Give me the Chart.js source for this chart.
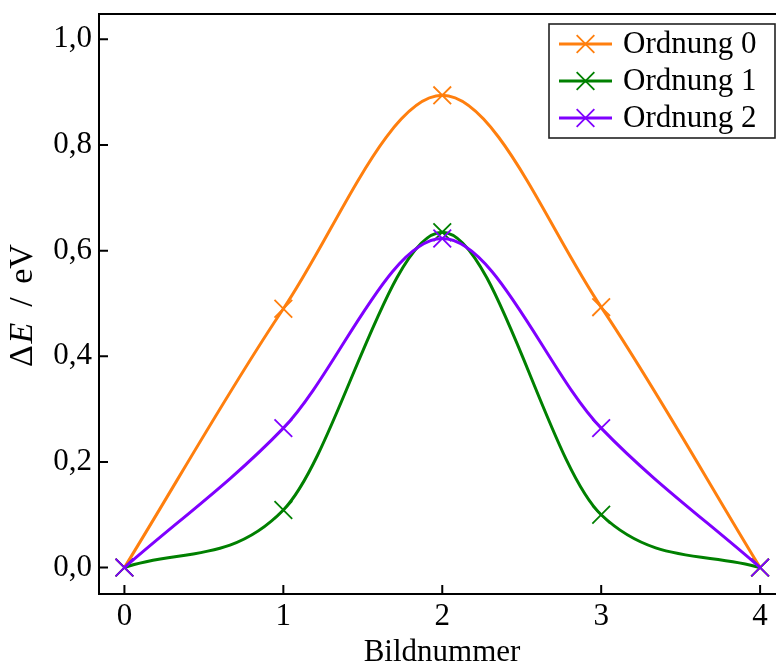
<!DOCTYPE html>
<html>
<head>
<meta charset="utf-8">
<script src="https://cdn.jsdelivr.net/npm/chart.js@4/dist/chart.umd.min.js"></script>
<style>
  html, body { margin: 0; padding: 0; background: #fff; overflow: hidden; }
  #wrap { width: 776px; height: 662px; }
</style>
</head>
<body>
<div id="wrap"><canvas id="chart" width="776" height="662"></canvas></div>
<script>
// energy barrier per image, one series per order
const frames = [0, 1, 2, 3, 4];
const order0 = [0, 0.490, 0.894, 0.493, 0];
const order1 = [0, 0.109, 0.635, 0.100, 0];
const order2 = [0, 0.264, 0.623, 0.264, 0];
const seriesNames = ["Ordnung 0", "Ordnung 1", "Ordnung 2"];
const seriesColors = ["#ff7f0e", "#008000", "#7f00ff"];
const xTicks = [0, 1, 2, 3, 4];
const yTicks = [0, 0.2, 0.4, 0.6, 0.8, 1.0];

const FONT = "'Liberation Serif', 'DejaVu Serif', serif";
const FONT_SIZE = 31;

function toPoints(values) {
    return frames.map((f, i) => ({ x: f, y: values[i] }));
}

function makeSet(values, idx) {
    return {
        label: seriesNames[idx],
        data: toPoints(values),
        borderColor: seriesColors[idx],
        backgroundColor: seriesColors[idx],
        borderWidth: 3,
        cubicInterpolationMode: "monotone",
        pointStyle: "crossRot",
        pointRadius: 12.5,
        pointBorderWidth: 1.8,
        pointHoverRadius: 12.5,
        order: 3 - idx,
        fill: false
    };
}

// keep the plot box fixed, labels may run into the margins
function fixBox(scale, size) {
    if (scale.isHorizontal()) scale.height = size; else scale.width = size;
    scale.paddingTop = 0;
    scale.paddingBottom = 0;
    scale.paddingLeft = 0;
    scale.paddingRight = 0;
}

// spines, inward ticks, axis titles and the framed legend
const axesDecor = {
    id: "axesDecor",
    afterDraw(chart) {
        const ctx = chart.ctx;
        const area = chart.chartArea;
        const xs = chart.scales.x;
        const ys = chart.scales.y;
        ctx.save();
        ctx.strokeStyle = "#000";
        ctx.lineWidth = 2;
        ctx.beginPath();
        ctx.moveTo(area.left, area.top);
        ctx.lineTo(area.right + 2, area.top);
        ctx.moveTo(area.left, area.top - 1);
        ctx.lineTo(area.left, area.bottom + 1);
        ctx.moveTo(area.left - 1, area.bottom);
        ctx.lineTo(area.right + 2, area.bottom);
        xTicks.forEach(v => {
            const px = xs.getPixelForValue(v);
            ctx.moveTo(px, area.bottom);
            ctx.lineTo(px, area.bottom - 9);
        });
        yTicks.forEach(v => {
            const py = ys.getPixelForValue(v);
            ctx.moveTo(area.left, py);
            ctx.lineTo(area.left + 9, py);
        });
        ctx.stroke();

        ctx.fillStyle = "#000";
        ctx.font = FONT_SIZE + "px " + FONT;
        ctx.textAlign = "center";
        ctx.textBaseline = "alphabetic";
        ctx.fillText("Bildnummer", 442, 661);

        // y title: upright Delta, italic E, spaced slash
        ctx.save();
        ctx.translate(32, 370);
        ctx.rotate(-Math.PI / 2);
        const parts = [
            { t: "\u0394", f: "34px " + FONT, at: 14 },
            { t: "E", f: "italic 34px " + FONT, at: 37 },
            { t: "/", f: "34px " + FONT, at: 68 },
            { t: "eV", f: "34px " + FONT, at: 106 }
        ];
        ctx.textAlign = "center";
        parts.forEach(p => {
            ctx.font = p.f;
            ctx.fillText(p.t, p.at, 0);
        });
        ctx.restore();

        // legend
        const boxL = area.right - 227, boxT = area.top + 10;
        const boxW = 226, boxH = 114;
        ctx.fillStyle = "#fff";
        ctx.fillRect(boxL, boxT, boxW, boxH);
        ctx.lineWidth = 1.6;
        ctx.strokeStyle = "#222";
        ctx.strokeRect(boxL, boxT, boxW, boxH);
        chart.data.datasets.forEach((ds, i) => {
            const ry = boxT + 20 + i * 37;
            ctx.strokeStyle = ds.borderColor;
            ctx.lineWidth = 3;
            ctx.beginPath();
            ctx.moveTo(boxL + 10, ry);
            ctx.lineTo(boxL + 63, ry);
            ctx.stroke();
            ctx.lineWidth = 1.8;
            Chart.helpers.drawPoint(ctx, { pointStyle: "crossRot", radius: 12.5, borderWidth: 1.8 }, boxL + 36.5, ry);
            ctx.fillStyle = "#000";
            ctx.font = FONT_SIZE + "px " + FONT;
            ctx.textAlign = "left";
            ctx.textBaseline = "middle";
            ctx.fillText(ds.label, boxL + 74, ry + 1);
        });
        ctx.restore();
    }
};

new Chart("chart", {
    type: "line",
    data: {
        datasets: [makeSet(order0, 0), makeSet(order1, 1), makeSet(order2, 2)]
    },
    options: {
        responsive: false,
        animation: false,
        layout: { autoPadding: false, padding: { top: 14, right: 0, left: 0, bottom: 0 } },
        plugins: {
            legend: { display: false },
            tooltip: { enabled: false }
        },
        scales: {
            x: {
                type: "linear",
                min: -0.16,
                max: 4.1,
                grid: { display: false, drawTicks: false },
                border: { display: false },
                afterBuildTicks: scale => { scale.ticks = xTicks.map(v => ({ value: v })); },
                afterFit: scale => fixBox(scale, 68),
                ticks: {
                    padding: 4,
                    color: "#000",
                    font: { family: FONT, size: FONT_SIZE },
                    callback: v => String(v)
                }
            },
            y: {
                min: -0.05,
                max: 1.048,
                grid: { display: false, drawTicks: false },
                border: { display: false },
                afterBuildTicks: scale => { scale.ticks = yTicks.map(v => ({ value: v })); },
                afterFit: scale => fixBox(scale, 99),
                ticks: {
                    padding: 7,
                    color: "#000",
                    font: { family: FONT, size: FONT_SIZE },
                    callback: v => v.toFixed(1).replace(".", ",")
                }
            }
        }
    },
    plugins: [axesDecor]
});
</script>
</body>
</html>
